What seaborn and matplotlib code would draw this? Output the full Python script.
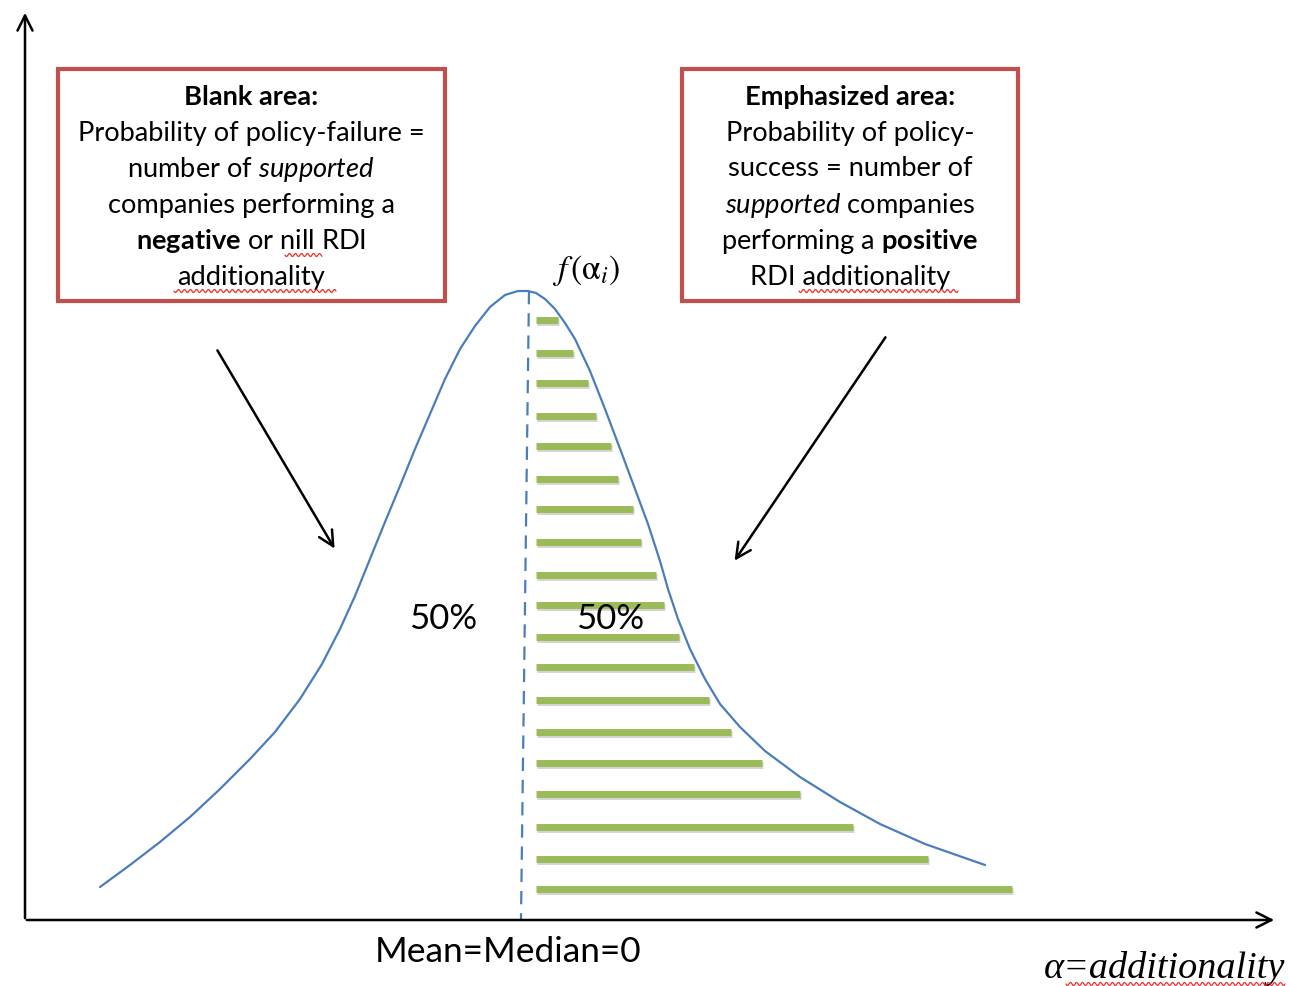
import numpy as np
import pandas as pd
import matplotlib
matplotlib.use("Agg")
import matplotlib.pyplot as plt
import seaborn as sns
from matplotlib.patches import Rectangle

# ---- data (in image pixel units) ----
curve_x = [100, 130, 160, 190, 220, 250, 275, 300, 322, 340, 355, 370, 385, 400, 415, 430,
           445, 460, 475, 490, 505, 518, 528, 536, 545, 555, 565, 575, 590, 605, 622, 635,
           648, 660, 668, 678, 690, 705, 720, 740, 765, 800, 840, 880, 925, 985]
curve_y = [888, 866, 843, 818, 790, 760, 733, 700, 665, 630, 597, 560, 523, 487, 450, 415,
           380, 350, 327, 308, 296, 292, 292, 294, 300, 310, 324, 340, 372, 410, 455, 490,
           525, 562, 590, 620, 650, 680, 705, 728, 752, 778, 803, 825, 845, 866]

bar_start = 536
bar_y = [321, 354, 384, 417, 447, 480, 510, 543, 576, 606, 638, 668, 701, 733, 764, 795, 828, 860, 890]
bar_end = [558, 573, 588, 596, 611, 618, 633, 641, 656, 664, 679, 694, 709, 731, 762, 800, 853, 928, 1012]

median_top = (529, 292)
median_bottom = (521, 920)

pct_labels = ["50%", "50%"]
pct_x = [443, 610]

left_lines = [r"Blank area:", r"Probability of policy-failure =",
              r"number of $\it{supported}$", r"companies performing a",
              r"$\bf{negative}$ or nill RDI", r"additionality"]
right_lines = [r"Emphasized area:", r"Probability of policy-",
               r"success = number of", r"$\it{supported}$ companies",
               r"performing a $\bf{positive}$", r"RDI additionality"]

# spell-check squiggle spans (x0, x1, y)
squiggles = [(285, 322, 256), (174, 336, 292), (799, 958, 292), (1066, 1285, 985)]

# ---- styling ----
sns.set_theme(style="white")
plt.rcParams['font.family'] = ['Lato', 'DejaVu Sans']
plt.rcParams['mathtext.fontset'] = 'custom'
plt.rcParams['mathtext.rm'] = 'Lato'
plt.rcParams['mathtext.it'] = 'Lato:italic'
plt.rcParams['mathtext.bf'] = 'Lato:bold'

W, H = 1291, 987
fig = plt.figure(figsize=(W / 100, H / 100), dpi=100)
ax = fig.add_axes([0, 0, 1, 1])

blue = "#4a7ebb"
green = "#9bbb59"
red = "#c0504d"

# green bars with faint shadow
for y, xe in zip(bar_y, bar_end):
    ax.plot([bar_start + 1, xe + 1], [y + 2, y + 2], color="#b8b8b8", lw=5, alpha=0.6,
            solid_capstyle="butt", zorder=2)
    ax.plot([bar_start, xe], [y, y], color=green, lw=5, solid_capstyle="butt", zorder=3)

# distribution curve
df = pd.DataFrame({"x": curve_x, "y": curve_y})
sns.lineplot(data=df, x="x", y="y", ax=ax, color=blue, lw=1.6, sort=False, zorder=4)
line = ax.get_lines()[-1]
line.set_solid_joinstyle("round")

ax.set_xlim(0, W)
ax.set_ylim(H, 0)
ax.axis("off")

# median dashed line
ax.plot([median_top[0], median_bottom[0]], [median_top[1], median_bottom[1]],
        color=blue, lw=1.6, dashes=(6, 4), zorder=4)

# axes arrows
arrow_kw = dict(arrowstyle="->,head_length=0.9,head_width=0.45", color="black", lw=1.8)
ax.annotate("", xy=(1277, 921), xytext=(24, 921), arrowprops=arrow_kw, zorder=5)
ax.annotate("", xy=(25, 11), xytext=(25, 922), arrowprops=arrow_kw, zorder=5)

# pointer arrows
ax.annotate("", xy=(336, 552), xytext=(216, 349), arrowprops=arrow_kw)
ax.annotate("", xy=(733, 564), xytext=(887, 336), arrowprops=arrow_kw)

# text boxes
ax.add_patch(Rectangle((58, 70), 387, 232, fill=False, edgecolor=red, lw=3, zorder=5))
ax.add_patch(Rectangle((682, 70), 336, 232, fill=False, edgecolor=red, lw=3, zorder=5))

line_y0, line_dy = 97, 36
for i, t in enumerate(left_lines):
    ax.text(251, line_y0 + i * line_dy, t, ha="center", va="center", fontsize=19.6,
            fontweight="bold" if i == 0 else "normal", color="black", zorder=6)
for i, t in enumerate(right_lines):
    ax.text(850, line_y0 + i * line_dy, t, ha="center", va="center", fontsize=19.6,
            fontweight="bold" if i == 0 else "normal", color="black", zorder=6)

# squiggles (decorative)
for x0, x1, yy in squiggles:
    xs = np.linspace(x0, x1, int((x1 - x0) * 2))
    ax.plot(xs, yy + 1.5 * np.sin((xs - x0) / 6.0 * 2 * np.pi), color="#e8302a", lw=0.9, zorder=6)

# percentages
for x, lab in zip(pct_x, pct_labels):
    ax.text(x, 619, lab, ha="center", va="center", fontsize=25, color="black", zorder=6)

# f(alpha_i)
ax.text(586, 270, r"$f\,(\mathrm{\alpha}_i)$", ha="center", va="center", fontsize=24.5,
        math_fontfamily="stix", color="black", zorder=6)

# bottom labels
ax.text(508, 952, "Mean=Median=0", ha="center", va="center", fontsize=25.4, color="black")
ax.text(1165, 968, "α=additionality", ha="center", va="center", fontsize=27.5,
        family="Liberation Serif", style="italic", color="black")

fig.savefig("out.png", dpi=100)
